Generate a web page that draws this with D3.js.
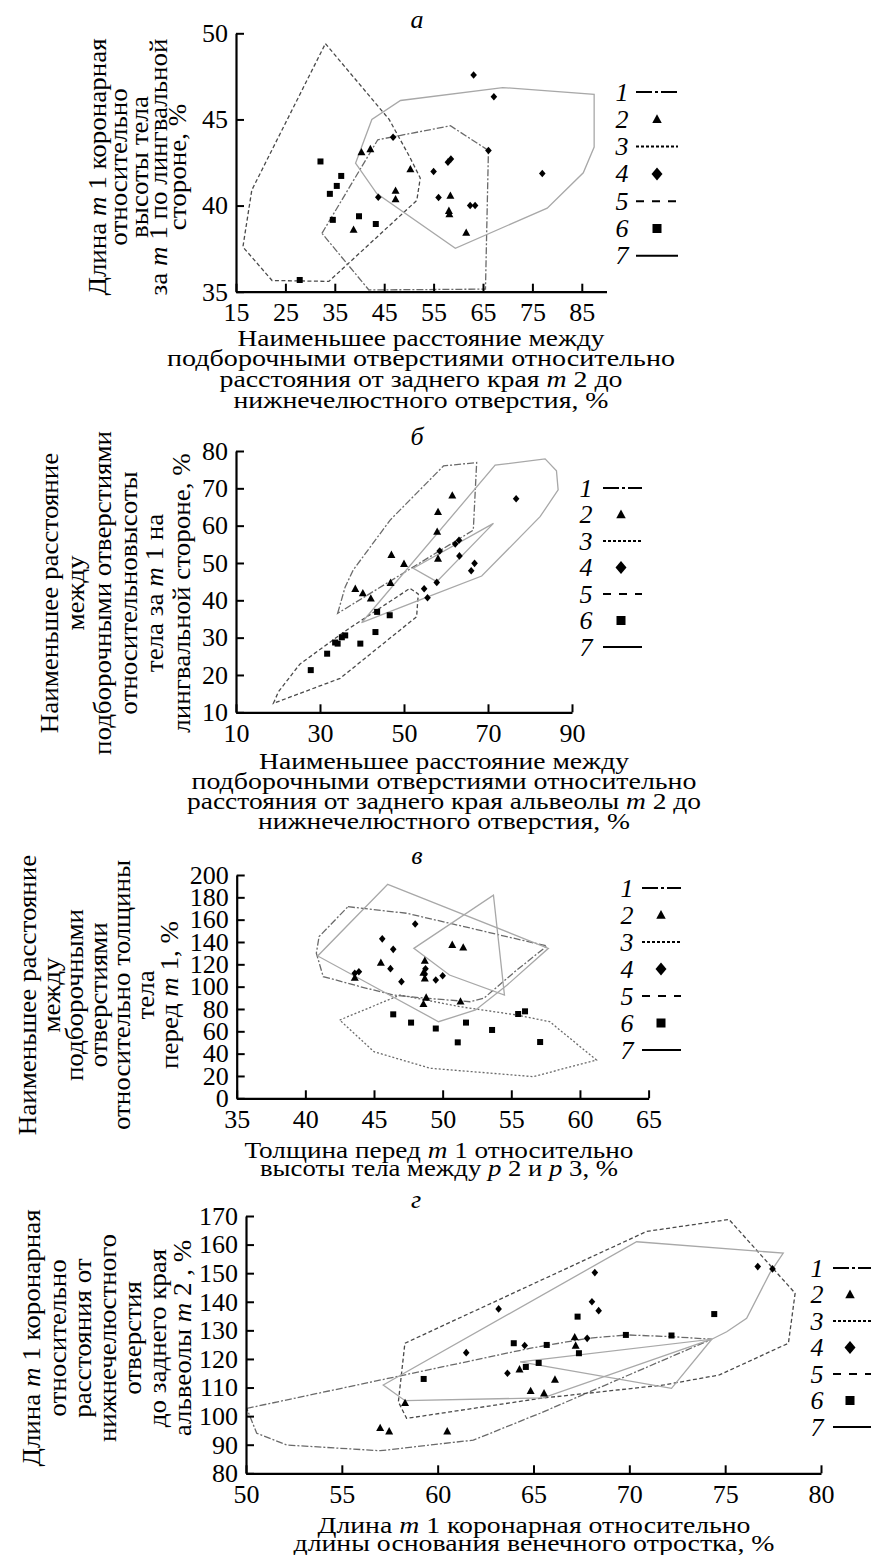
<!DOCTYPE html>
<html>
<head>
<meta charset="utf-8">
<script src="https://cdn.jsdelivr.net/npm/d3@7"></script>
<style>
body { margin: 0; background: #fff; }
text { font-family: "Liberation Serif", "Times New Roman", Times, serif; fill: #000; }
</style>
</head>
<body>
<script>
//Panel a values
var aXTicks = [15, 25, 35, 45, 55, 65, 75, 85];
var aYTicks = [35, 40, 45, 50];
var aTri = [[40.4,43.1],[42.2,43.28],[50.3,42.11],[47.3,40.87],[47.3,40.37],[38.8,38.6],[58.4,40.58],[58.1,39.7],[58.2,39.5],[61.6,38.43]];
var aDia = [[46.8,43.97],[55.0,41.98],[56.0,40.47],[57.9,42.52],[58.5,42.7],[62.4,40.0],[63.4,40.0],[66.1,43.2],[63.1,47.58],[67.2,46.32],[77.0,41.86],[43.8,40.48]];
var aSq = [[32.1,42.56],[36.3,41.72],[35.4,41.14],[34.0,40.68],[34.6,39.17],[39.9,39.38],[43.3,38.93],[27.9,35.68]];
var aHull1 = [[32.4,38.39],[43.7,43.82],[58.4,44.63],[66.1,43.2],[65.5,35.15],[41.9,35.1]];
var aHull5 = [[33.1,49.4],[46.0,45.0],[50.2,42.8],[52.3,41.6],[51.6,40.3],[33.8,35.6],[22.3,35.65],[16.4,37.6],[18.2,40.9]];
var aHull7 = [[39.2,42.46],[42.5,45.0],[48.3,46.1],[69.0,46.85],[87.5,46.45],[87.5,43.4],[85.3,41.9],[78.0,39.85],[59.4,37.52],[43.5,40.7]];
var aXTitle = ["Наименьшее расстояние между", "подборочными отверстиями относительно", "расстояния от заднего края  *m* 2 до", "нижнечелюстного отверстия, %"];
var aYTitle = ["Длина *m* 1 коронарная", "относительно", "высоты тела", "за *m* 1 по лингвальной", "стороне, %"];

//Panel b values
var bXTicks = [10, 30, 50, 70, 90];
var bYTicks = [10, 20, 30, 40, 50, 60, 70, 80];
var bTri = [[38.4,43.1],[40.2,41.9],[42.1,40.5],[47.0,52.2],[50.0,49.8],[46.8,44.7],[58.1,63.7],[61.5,68.1],[57.9,58.4],[58.1,51.2]];
var bDia = [[76.7,67.2],[54.8,43.1],[55.6,40.7],[57.8,44.8],[58.5,53.2],[62.2,55.1],[63.1,56.1],[63.2,51.9],[66.0,47.9],[66.8,49.9]];
var bSq = [[27.8,21.3],[31.7,25.7],[33.6,28.7],[34.2,28.4],[35.2,30.1],[36.0,30.6],[39.6,28.4],[43.2,31.5],[43.6,36.9],[46.6,36.0]];
var bHull1 = [[34.2,36.5],[36.0,43.6],[37.9,48.1],[46.7,61.5],[59.4,76.0],[67.3,76.9],[66.5,58.8]];
var bHull5 = [[18.9,12.4],[20.1,15.5],[25.2,22.9],[36.3,32.0],[51.4,43.2],[53.4,41.7],[53.0,35.6],[34.8,19.1]];
var bHull7 = [[39.9,34.0],[71.7,76.2],[83.6,77.9],[86.3,74.7],[86.7,69.6],[82.4,62.4],[68.5,46.5],[55.8,41.0]];
var bHull7b = [[52.2,48.6],[71.3,60.6],[57.8,45.0]];
var bXTitle = ["Наименьшее расстояние между", "подборочными отверстиями относительно", "расстояния от заднего края альвеолы *m* 2 до", "нижнечелюстного отверстия, %"];
var bYTitle = ["Наименьшее расстояние", "между", "подборочными отверстиями", "относительновысоты", "тела за *m* 1 на", "лингвальной стороне, %"];

//Panel v values
var vXTicks = [35, 40, 45, 50, 55, 60, 65];
var vYTicks = [0, 20, 40, 60, 80, 100, 120, 140, 160, 180, 200];
var vTri = [[45.5,121.5],[43.6,108.1],[48.7,123.3],[48.6,112.5],[48.7,107.5],[48.8,90.3],[48.6,84.5],[50.7,137.5],[51.5,135.2],[51.3,86.8]];
var vDia = [[48.0,156.1],[45.6,142.8],[46.4,133.4],[46.2,116.1],[47.0,104.5],[48.75,116.0],[48.7,111.3],[49.5,106.0],[50.0,109.8],[43.9,113.4],[43.6,111.9]];
var vSq = [[46.4,75.2],[47.7,67.8],[49.5,62.5],[51.1,50.1],[51.7,67.8],[53.6,61.2],[55.5,75.5],[56.0,77.9],[57.1,50.4]];
var vHull1 = [[43.1,171.6],[47.4,165.7],[57.6,136.4],[55.4,114.9],[53.0,89.6],[52.0,86.5],[48.8,89.6],[46.4,92.5],[44.0,100.0],[41.3,109.0],[40.8,130.0],[41.0,144.8]];
var vHull3 = [[42.5,70.1],[46.9,92.5],[51.3,82.0],[55.4,74.6],[57.8,68.6],[61.2,34.3],[56.6,19.4],[49.1,26.9],[45.0,41.7]];
var vHull7 = [[46.0,191.6],[57.7,134.3],[54.7,101.5],[52.4,79.1],[49.7,68.6],[40.9,127.5]];
var vHull7b = [[47.9,134.3],[53.7,182.0],[54.5,92.5],[50.5,110.4]];
var vXTitle = ["Толщина перед *m* 1 относительно", "высоты тела между *p* 2 и *p* 3, %"];
var vYTitle = ["Наименьшее расстояние", "между", "подборочными", "отверстиями", "относительно толщины", "тела", "перед *m* 1, %"];

//Panel g values
var gXTicks = [50, 55, 60, 65, 70, 75, 80];
var gYTicks = [80, 90, 100, 110, 120, 130, 140, 150, 160, 170];
var gTri = [[57.0,95.9],[57.47,94.7],[60.5,94.7],[58.3,104.6],[64.27,116.4],[64.85,108.8],[65.55,108.0],[66.12,112.8],[67.15,127.6],[67.2,124.7]];
var gDia = [[63.18,137.5],[61.49,122.2],[63.64,115.0],[64.54,124.7],[67.8,127.2],[68.2,150.2],[68.05,140.0],[68.4,136.9],[76.7,152.3],[77.47,151.5]];
var gSq = [[59.27,113.0],[63.97,125.5],[64.6,117.2],[65.27,118.6],[65.69,124.9],[67.3,134.8],[67.37,122.0],[69.82,128.4],[72.2,128.2],[74.43,135.7]];
var gHull1 = [[50.04,102.7],[64.8,123.7],[67.8,127.2],[69.9,128.4],[72.2,127.8],[74.3,126.9],[65.34,101.0],[61.86,91.6],[57.0,87.9],[52.12,89.9],[50.56,94.0]];
var gHull5 = [[58.29,125.5],[70.9,164.6],[75.2,168.8],[78.65,143.0],[78.3,125.5],[74.7,114.4],[71.8,110.9],[65.34,106.2],[58.38,99.2],[57.95,105.0]];
var gHull7 = [[57.16,110.9],[70.38,161.0],[78.03,157.0],[77.33,150.0],[76.12,134.2],[75.08,129.5],[74.3,126.9],[65.5,106.4],[58.3,105.4]];
var gHull7b = [[64.3,119.0],[74.3,126.9],[72.2,109.7]];
var gXTitle = ["Длина *m* 1 коронарная относительно", "длины основания венечного отростка, %"];
var gYTitle = ["Длина *m* 1 коронарная", "относительно", "расстояния от", "нижнечелюстного", "отверстия", "до заднего края", "альвеолы *m* 2 , %"];

//Legend
var legendLabels = ["1", "2", "3", "4", "5", "6", "7"];
var legendKinds = ["h1", "tri", "h3", "dia", "h5", "sq", "h7"];
var panelLetters = ["а", "б", "в", "г"];

//Line look of each hull type
var hullStyle = {
    1: { stroke: "#6a6a6a", dash: "7,2,2,2" },
    3: { stroke: "#6a6a6a", dash: "2,2" },
    5: { stroke: "#4a4a4a", dash: "4,2.5" },
    7: { stroke: "#a8a8a8", dash: null }
};
var legendDash = { h1: "16,3,3,3", h3: "3,2", h5: "8,8", h7: null };

var svg = d3.select("body").append("svg")
            .attr("width", 871)
            .attr("height", 1555);

//Panel layouts (pixel boxes)
var panels = [
    { x0: 236, x1: 606.5, y0: 291.7, y1: 33.3, xDom: [15, 90], yDom: [35, 50], xTicks: aXTicks, yTicks: aYTicks,
      hulls: [[aHull5, 5], [aHull1, 1], [aHull7, 7]], tri: aTri, dia: aDia, sq: aSq,
      letter: [417, 28],
      xTitle: aXTitle, xCx: 421, xBase: [346, 366, 387, 408], xW: [367, 508, 403, 375],
      yTitle: aYTitle, yCy: 167, yBase: [106, 127, 148, 167, 186],
      leg: { nx: 622, x0: 636, x1: 678, mx: 657, y0: 92, dy: 27.3 } },
    { x0: 236, x1: 572, y0: 712.3, y1: 451, xDom: [10, 90], yDom: [10, 80], xTicks: bXTicks, yTicks: bYTicks,
      hulls: [[bHull5, 5], [bHull1, 1], [bHull7, 7], [bHull7b, 7]], tri: bTri, dia: bDia, sq: bSq,
      letter: [417, 445],
      xTitle: bXTitle, xCx: 444, xBase: [769, 789, 809, 829], xW: [370, 505, 514, 372],
      yTitle: bYTitle, yCy: 593, yBase: [58, 84, 111, 137, 163, 190],
      leg: { nx: 586, x0: 603, x1: 642, mx: 621, y0: 488, dy: 26.5 } },
    { x0: 236.7, x1: 648.6, y0: 1098.3, y1: 875, xDom: [35, 65], yDom: [0, 200], xTicks: vXTicks, yTicks: vYTicks,
      hulls: [[vHull3, 3], [vHull1, 1], [vHull7, 7], [vHull7b, 7]], tri: vTri, dia: vDia, sq: vSq,
      letter: [417, 864],
      xTitle: vXTitle, xCx: 439, xBase: [1158, 1176], xW: [389, 358],
      yTitle: vYTitle, yCy: 995, yBase: [36, 60, 83, 107, 130, 154, 178],
      leg: { nx: 627, x0: 642, x1: 681, mx: 661, y0: 888, dy: 27 } },
    { x0: 246, x1: 821, y0: 1473.3, y1: 1216, xDom: [50, 80], yDom: [80, 170], xTicks: gXTicks, yTicks: gYTicks,
      hulls: [[gHull5, 5], [gHull1, 1], [gHull7, 7], [gHull7b, 7]], tri: gTri, dia: gDia, sq: gSq,
      letter: [416, 1208],
      xTitle: gXTitle, xCx: 534, xBase: [1533, 1551], xW: [433, 481],
      yTitle: gYTitle, yCy: 1338, yBase: [40, 66, 91, 116, 141, 166, 191],
      leg: { nx: 817, x0: 833, x1: 880, mx: 850, y0: 1268, dy: 26.5 } }
];

//Text with *italic* parts
function richText(sel, str) {
    str.split("*").forEach(function(part, i){
        if (!part) return;
        sel.append("tspan")
           .style("font-style", i % 2 ? "italic" : "normal")
           .text(part);
    });
}

var triPath = function(s){ return "M0," + (-s) + "L" + (s * 0.95) + "," + (s * 0.75) + "L" + (-s * 0.95) + "," + (s * 0.75) + "Z"; };
var diaPath = function(w, h){ return "M0," + (-h) + "L" + w + ",0L0," + h + "L" + (-w) + ",0Z"; };

panels.forEach(function(p, pi){

    var xScale = d3.scaleLinear().domain(p.xDom).range([p.x0, p.x1]);
    var yScale = d3.scaleLinear().domain(p.yDom).range([p.y0, p.y1]);
    var g = svg.append("g");

    //Hull outlines
    p.hulls.forEach(function(h){
        var st = hullStyle[h[1]];
        g.append("path")
         .attr("d", d3.line().x(function(d){ return xScale(d[0]); }).y(function(d){ return yScale(d[1]); })(h[0]) + "Z")
         .attr("fill", "none")
         .attr("stroke", st.stroke)
         .attr("stroke-width", 1.3)
         .attr("stroke-dasharray", st.dash);
    });

    //Points
    g.selectAll(".tri").data(p.tri).join("path")
     .attr("d", triPath(4.2))
     .attr("transform", function(d){ return "translate(" + xScale(d[0]) + "," + yScale(d[1]) + ")"; })
     .attr("fill", "#000");
    g.selectAll(".dia").data(p.dia).join("path")
     .attr("d", diaPath(3.3, 3.8))
     .attr("transform", function(d){ return "translate(" + xScale(d[0]) + "," + yScale(d[1]) + ")"; })
     .attr("fill", "#000");
    g.selectAll(".sq").data(p.sq).join("rect")
     .attr("x", function(d){ return xScale(d[0]) - 3; })
     .attr("y", function(d){ return yScale(d[1]) - 3; })
     .attr("width", 6).attr("height", 6)
     .attr("fill", "#000");

    //Axes
    var xAxis = svg.append("g")
        .attr("transform", "translate(0," + p.y0 + ")")
        .call(d3.axisBottom(xScale).tickValues(p.xTicks).tickSize(-8).tickSizeOuter(0).tickPadding(11));
    var yAxis = svg.append("g")
        .attr("transform", "translate(" + p.x0 + ",0)")
        .call(d3.axisLeft(yScale).tickValues(p.yTicks).tickSize(-8).tickSizeOuter(0).tickPadding(8));
    [xAxis, yAxis].forEach(function(ax){
        ax.attr("font-family", null).attr("font-size", null);
        ax.select(".domain").attr("stroke", "#000").attr("stroke-width", 2.2);
        ax.selectAll(".tick line").attr("stroke", "#000").attr("stroke-width", 2);
        ax.selectAll(".tick text").style("font-size", "26px").attr("fill", "#000");
    });

    //Panel letter
    svg.append("text")
       .attr("x", p.letter[0]).attr("y", p.letter[1])
       .attr("text-anchor", "middle")
       .style("font-size", "26px").style("font-style", "italic")
       .text(panelLetters[pi]);

    //X-axis title
    p.xTitle.forEach(function(line, i){
        var t = svg.append("text")
                   .attr("x", p.xCx).attr("y", p.xBase[i])
                   .attr("text-anchor", "middle")
                   .attr("textLength", p.xW[i])
                   .attr("lengthAdjust", "spacingAndGlyphs")
                   .style("font-size", "23px");
        richText(t, line);
    });

    //Y-axis title, slightly smaller glyphs kept at the original length
    p.yTitle.forEach(function(line, i){
        var t = svg.append("text")
                   .attr("transform", "translate(" + p.yBase[i] + "," + p.yCy + ") rotate(-90)")
                   .attr("text-anchor", "middle")
                   .style("font-size", "25px");
        richText(t, line);
        var len = t.node().getComputedTextLength();
        t.attr("textLength", len * 27 / 25).attr("lengthAdjust", "spacingAndGlyphs");
    });

    //Legend
    var L = p.leg;
    legendLabels.forEach(function(lab, i){
        var cy = L.y0 + i * L.dy;
        svg.append("text")
           .attr("x", L.nx).attr("y", cy + 8.5)
           .attr("text-anchor", "middle")
           .style("font-size", "26px").style("font-style", "italic")
           .text(lab);
        var kind = legendKinds[i];
        if (kind === "tri") {
            svg.append("path").attr("d", triPath(5)).attr("transform", "translate(" + L.mx + "," + cy + ")").attr("fill", "#000");
        } else if (kind === "dia") {
            svg.append("path").attr("d", diaPath(5.5, 6.5)).attr("transform", "translate(" + L.mx + "," + cy + ")").attr("fill", "#000");
        } else if (kind === "sq") {
            svg.append("rect").attr("x", L.mx - 4.5).attr("y", cy - 4.5).attr("width", 9).attr("height", 9).attr("fill", "#000");
        } else {
            svg.append("line")
               .attr("x1", L.x0).attr("x2", L.x1).attr("y1", cy).attr("y2", cy)
               .attr("stroke", "#000").attr("stroke-width", 2)
               .attr("stroke-dasharray", legendDash[kind]);
        }
    });
});
</script>
</body>
</html>
